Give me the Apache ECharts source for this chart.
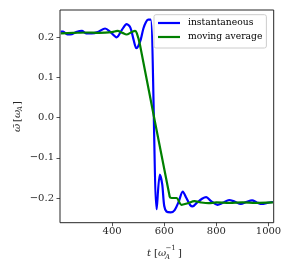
<!DOCTYPE html>
<html><head><meta charset="utf-8">
<script src="https://cdn.jsdelivr.net/npm/echarts@6/dist/echarts.min.js"></script>
<style>html,body{margin:0;padding:0;background:#fff}#c{width:292px;height:270px}</style>
</head><body><div id="c"></div>
<script>
// time (omega_A^-1) and values
const instT = [203,212,228,246,262,284,300,322,345,373,395,417,437,456,470,482,493,500,510,520,530,538,548,571,583,592,600,609,625,640,655,671,685,700,709,725,745,761,780,804,825,849,870,894,915,937,955,975,995,1017];
const instV = [0.214,0.214,0.207,0.208,0.213,0.216,0.210,0.210,0.213,0.222,0.212,0.200,0.218,0.233,0.224,0.195,0.173,0.178,0.195,0.222,0.238,0.244,0.244,-0.228,-0.142,-0.165,-0.220,-0.234,-0.236,-0.230,-0.210,-0.184,-0.200,-0.218,-0.221,-0.212,-0.202,-0.198,-0.208,-0.217,-0.212,-0.205,-0.209,-0.215,-0.210,-0.206,-0.211,-0.215,-0.212,-0.210];
const avgT = [203,250,300,350,400,420,440,455,475,488,495,507,621,628,647,666,690,716,740,770,800,850,900,950,1017];
const avgV = [0.210,0.211,0.212,0.211,0.213,0.216,0.211,0.207,0.213,0.216,0.210,0.181,-0.197,-0.200,-0.200,-0.217,-0.213,-0.208,-0.211,-0.213,-0.211,-0.212,-0.211,-0.212,-0.211];
const xTicks = [400,600,800,1000];
const yTicks = [-0.2,-0.1,0.0,0.1,0.2];
const seriesNames = ['instantaneous','moving average'];

const FONT = 'DejaVu Serif';
const fmtY = v => (v < 0 ? '\u2212' : '') + Math.abs(v).toFixed(1);
const chart = echarts.init(document.getElementById('c'));
chart.setOption({
  animation: false,
  grid: {left: 60, right: 18.3, top: 10, bottom: 47.3, show: true, borderColor: '#262626', borderWidth: 1},
  legend: {
    orient: 'vertical', left: 154, top: 14.7,
    data: seriesNames, icon: 'rect', itemWidth: 22, itemHeight: 2.2, itemGap: 2,
    padding: [2.3, 4, 5, 4],
    backgroundColor: 'rgba(255,255,255,0.8)', borderColor: '#cccccc', borderWidth: 1, borderRadius: 2,
    textStyle: {fontFamily: FONT, fontSize: 9.2, color: '#000', lineHeight: 12, padding: [0,0,0,3]}
  },
  xAxis: {
    type: 'value', min: 200, max: 1020,
    splitLine: {show: false},
    axisLine: {show: false, onZero: false},
    axisTick: {show: true, length: 3.5, lineStyle: {color: '#262626', width: 0.8}, customValues: xTicks},
    axisLabel: {fontFamily: FONT, fontSize: 10, color: '#262626', margin: 4, customValues: xTicks, formatter: v => String(v)}
  },
  yAxis: {
    type: 'value', min: -0.2615, max: 0.268,
    splitLine: {show: false},
    axisLine: {show: false, onZero: false},
    axisTick: {show: true, length: 3.5, lineStyle: {color: '#262626', width: 0.8}, customValues: yTicks},
    axisLabel: {fontFamily: FONT, fontSize: 10, color: '#262626', margin: 6, customValues: yTicks, formatter: fmtY}
  },
  series: [
    {name: seriesNames[0], type: 'line', data: instT.map((t,i)=>[t,instV[i]]), showSymbol: false, smooth: 0.3,
     lineStyle: {color: '#0000ff', width: 2.2}, itemStyle: {color: '#0000ff'}},
    {name: seriesNames[1], type: 'line', data: avgT.map((t,i)=>[t,avgV[i]]), showSymbol: false, smooth: 0.3,
     lineStyle: {color: '#008000', width: 2.2}, itemStyle: {color: '#008000'}}
  ],
  graphic: [
    {type: 'group', left: 147, top: 245, children: [
      {type: 'text', x: 0, y: 0, style: {text: 't', font: 'italic 10px "DejaVu Serif"', fill: '#262626'}},
      {type: 'text', x: 7, y: 0, style: {text: '[', font: '10px "DejaVu Serif"', fill: '#262626'}},
      {type: 'text', x: 11, y: 0, style: {text: 'ω', font: 'italic 10px "DejaVu Serif"', fill: '#262626'}},
      {type: 'text', x: 18, y: 6, style: {text: 'A', font: 'italic 7px "DejaVu Serif"', fill: '#262626'}},
      {type: 'text', x: 18.5, y: -3, style: {text: '\u22121', font: '7px "DejaVu Serif"', fill: '#262626'}},
      {type: 'text', x: 31, y: 0, style: {text: ']', font: '10px "DejaVu Serif"', fill: '#262626'}}
    ]},
    {type: 'group', x: 12, y: 132, rotation: Math.PI/2, children: [
      {type: 'text', x: 0, y: 0, style: {text: 'ω\u0304', font: 'italic 10px "DejaVu Serif"', fill: '#262626'}},
      {type: 'text', x: 10, y: 0, style: {text: '[', font: '10px "DejaVu Serif"', fill: '#262626'}},
      {type: 'text', x: 14, y: 0, style: {text: 'ω', font: 'italic 10px "DejaVu Serif"', fill: '#262626'}},
      {type: 'text', x: 21, y: 5, style: {text: 'A', font: 'italic 7px "DejaVu Serif"', fill: '#262626'}},
      {type: 'text', x: 27, y: 0, style: {text: ']', font: '10px "DejaVu Serif"', fill: '#262626'}}
    ]}
  ]
});
</script></body></html>
